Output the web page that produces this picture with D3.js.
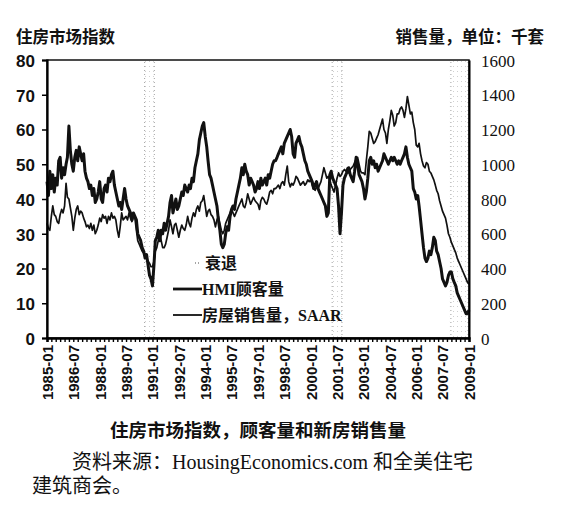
<!DOCTYPE html>
<html>
<head>
<meta charset="utf-8">
<script src="https://cdn.jsdelivr.net/npm/d3@7"></script>
<style>
  body { margin: 0; background: #fff; }
  svg text { fill: #111; }
</style>
</head>
<body>
<svg id="chart" width="565" height="527"></svg>
<script>
'use strict'

// monthly, 1985-01 .. 2009-01
const firstMonth = '1985-01';

// HMI 顾客量 (left axis)
const hmi = [
  45,41,48,43,47,42,46,44,51,52,46,49,
  47,50,52,61,54,50,48,52,54,51,55,53,
  51,53,48,46,45,43,44,41,43,39,40,42,
  45,40,39,43,44,42,46,45,47,48,44,42,
  40,38,39,37,40,43,40,38,37,36,34,36,
  35,34,30,29,28,26,25,23,24,21,18,17,
  15,21,28,29,31,28,31,30,33,31,33,35,
  39,41,36,38,40,37,38,40,42,41,44,43,
  42,44,43,46,45,49,51,53,57,59,61,62,
  58,55,51,47,46,44,42,40,38,34,31,27,
  26,27,30,32,31,35,37,38,37,40,42,44,
  46,49,47,50,48,47,44,46,45,44,42,43,
  45,43,46,44,45,46,44,47,46,48,50,51,
  51,52,53,54,55,53,56,57,58,59,60,58,
  53,52,56,57,58,56,55,53,51,50,48,47,
  46,45,43,44,45,43,42,41,40,39,38,35,
  36,47,48,46,45,44,43,38,30,36,44,46,
  47,48,49,47,46,45,48,52,50,47,46,45,
  43,40,42,46,51,52,50,51,49,50,48,49,
  50,51,53,52,51,50,51,52,51,52,51,50,
  51,50,51,52,53,55,52,50,49,48,43,42,
  40,41,38,34,30,26,23,22,23,25,24,26,
  29,28,25,24,22,20,17,16,15,16,18,19,
  19,17,16,15,13,12,11,10,9,8,7,7,
  8
];

// 房屋销售量, SAAR, 千套 (right axis)
const sales = [
  660,630,620,700,760,710,700,670,660,710,740,720,
  760,890,810,800,750,700,620,690,740,760,710,730,
  720,690,670,640,650,630,660,620,650,600,620,650,
  690,670,710,690,700,660,700,680,720,690,700,680,
  620,580,640,720,680,690,700,680,720,690,670,700,
  690,620,560,540,520,500,490,470,460,440,430,410,
  410,440,500,520,560,600,560,520,520,540,580,620,
  680,640,600,650,660,620,580,620,650,630,620,650,
  700,660,640,690,720,700,740,760,730,780,790,820,
  760,700,730,740,710,700,680,640,680,700,660,620,
  600,620,660,680,700,720,740,720,700,720,740,760,
  780,800,760,750,780,830,800,770,790,810,790,780,
  770,740,790,810,800,780,770,800,840,850,830,860,
  860,870,880,860,890,900,880,940,990,900,870,890,
  880,900,930,920,900,880,890,900,880,890,910,900,
  910,880,860,850,870,860,880,900,940,980,950,920,
  930,910,880,860,840,880,920,950,930,940,960,970,
  960,980,950,970,980,990,1010,1030,1040,1000,960,950,
  950,940,1020,1100,1190,1180,1150,1120,1130,1150,1170,1200,
  1230,1260,1200,1180,1120,1200,1250,1310,1280,1220,1240,1290,
  1290,1320,1330,1310,1270,1320,1390,1340,1290,1300,1240,1200,
  1110,1100,1120,1060,1020,990,980,1010,1000,960,950,930,
  910,880,850,830,790,760,730,710,690,650,600,580,
  550,530,510,490,460,440,420,400,380,360,340,320,
  310
];

const xLabels = ['1985-01','1986-07','1988-01','1989-07','1991-01','1992-07','1994-01','1995-07',
  '1997-01','1998-07','2000-01','2001-07','2003-01','2004-07','2006-01','2007-07','2009-01'];
const leftTicks = [0,10,20,30,40,50,60,70,80];
const rightTicks = [0,200,400,600,800,1000,1200,1400,1600];
const recessions = [['1990-07','1991-03'],['2001-03','2001-11'],['2007-12','2009-01']];

const parse = d3.timeParse('%Y-%m');
const fmt = d3.timeFormat('%Y-%m');
const t0 = parse(firstMonth);
const months = hmi.map((d, i) => d3.timeMonth.offset(t0, i));

const plot = {left: 47, right: 469, top: 60, bottom: 338};
const cjk = '"Noto Sans CJK SC", sans-serif';
const serifCjk = '"Liberation Serif", "Noto Sans CJK SC", serif';

const svg = d3.select('#chart');

const x = d3.scaleTime()
  .domain([months[0], months[months.length - 1]])
  .range([plot.left, plot.right]);
const yL = d3.scaleLinear().domain([0, 80]).range([plot.bottom, plot.top]);
const yR = d3.scaleLinear().domain([0, 1600]).range([plot.bottom, plot.top]);

// recession bands (stippled)
const defs = svg.append('defs');
const pat = defs.append('pattern')
  .attr('id', 'stipple')
  .attr('width', 4).attr('height', 5)
  .attr('patternUnits', 'userSpaceOnUse');
pat.append('rect').attr('x', 1).attr('y', 1).attr('width', 1).attr('height', 1).attr('fill', '#d0d0d0');

const rec = svg.append('g');
recessions.forEach(function(r) {
  let a = x(parse(r[0])), b = x(parse(r[1]));
  rec.append('rect')
    .attr('x', a).attr('y', plot.top)
    .attr('width', b - a).attr('height', plot.bottom - plot.top)
    .attr('fill', 'url(#stipple)');
  [a + 1, b - 1].forEach(function(px) {
    rec.append('line')
      .attr('x1', px).attr('x2', px)
      .attr('y1', plot.top + 2).attr('y2', plot.bottom)
      .attr('stroke', '#a0a0a0')
      .attr('stroke-width', 1)
      .attr('stroke-dasharray', '1,3');
  });
});

// lines
const lineL = d3.line().x((d, i) => x(months[i])).y(d => yL(d));
const lineR = d3.line().x((d, i) => x(months[i])).y(d => yR(d));

svg.append('path')
  .datum(sales)
  .attr('d', lineR)
  .attr('fill', 'none')
  .attr('stroke', '#111')
  .attr('stroke-width', 1.7)
  .attr('stroke-linejoin', 'round');

svg.append('path')
  .datum(hmi)
  .attr('d', lineL)
  .attr('fill', 'none')
  .attr('stroke', '#111')
  .attr('stroke-width', 3)
  .attr('stroke-linejoin', 'round');

// frame
svg.append('rect')
  .attr('x', plot.left).attr('y', plot.top)
  .attr('width', plot.right - plot.left).attr('height', plot.bottom - plot.top)
  .attr('fill', 'none')
  .attr('stroke', '#111')
  .attr('stroke-width', 1.5);

// left axis
const axL = svg.append('g')
  .attr('transform', 'translate(' + plot.left + ',0)')
  .call(d3.axisLeft(yL).tickValues(leftTicks).tickSize(5).tickPadding(7));
axL.select('.domain').attr('stroke-width', 2.2);
axL.selectAll('.tick line').attr('stroke-width', 1.5);
axL.selectAll('text')
  .style('font-family', '"Liberation Sans", sans-serif')
  .style('font-weight', 'bold')
  .style('font-size', '17px')
  .attr('dy', '0.38em');

// right axis
const axR = svg.append('g')
  .attr('transform', 'translate(' + plot.right + ',0)')
  .call(d3.axisRight(yR).tickValues(rightTicks).tickSize(0).tickPadding(12).tickFormat(d3.format('d')));
axR.select('.domain').attr('stroke-width', 2);
axR.selectAll('text')
  .style('font-family', '"Liberation Serif", serif')
  .style('font-size', '17px')
  .attr('dy', '0.36em');

// bottom axis: quarterly ticks
const axB = svg.append('g')
  .attr('transform', 'translate(0,' + plot.bottom + ')')
  .call(d3.axisBottom(x).ticks(d3.timeMonth.every(3)).tickSize(4).tickFormat(''));
axB.select('.domain').attr('stroke-width', 2.5);
axB.selectAll('.tick line').attr('stroke-width', 1.4);

// bottom labels
const axLab = svg.append('g')
  .attr('transform', 'translate(0,' + plot.bottom + ')')
  .call(d3.axisBottom(x).tickValues(xLabels.map(parse)).tickSize(0).tickFormat(fmt));
axLab.select('.domain').remove();
axLab.selectAll('text')
  .style('font-family', '"Liberation Sans", sans-serif')
  .style('font-weight', 'bold')
  .style('font-size', '15px')
  .attr('text-anchor', 'end')
  .attr('transform', 'rotate(-90)')
  .attr('x', -7)
  .attr('y', 0)
  .attr('dy', '0.36em');

// axis titles
svg.append('text')
  .attr('x', 16).attr('y', 43)
  .style('font-family', cjk).style('font-weight', 'bold').style('font-size', '16.5px')
  .text('住房市场指数');
svg.append('text')
  .attr('x', 544).attr('y', 43)
  .attr('text-anchor', 'end')
  .style('font-family', cjk).style('font-weight', 'bold').style('font-size', '16.5px')
  .text('销售量，单位：千套');

// legend
const lg = svg.append('g');
lg.append('line')
  .attr('x1', 195).attr('x2', 199).attr('y1', 263).attr('y2', 263)
  .attr('stroke', '#888').attr('stroke-width', 1.5).attr('stroke-dasharray', '1,2');
lg.append('text').attr('x', 205).attr('y', 269)
  .style('font-family', cjk).style('font-weight', 'bold').style('font-size', '16px')
  .text('衰退');
lg.append('line')
  .attr('x1', 173).attr('x2', 202).attr('y1', 289).attr('y2', 289)
  .attr('stroke', '#111').attr('stroke-width', 2.8);
lg.append('text').attr('x', 202).attr('y', 295)
  .style('font-family', serifCjk).style('font-weight', 'bold').style('font-size', '16px')
  .text('HMI顾客量');
lg.append('line')
  .attr('x1', 173).attr('x2', 202).attr('y1', 315).attr('y2', 315)
  .attr('stroke', '#111').attr('stroke-width', 1.8);
lg.append('text').attr('x', 202).attr('y', 321)
  .style('font-family', serifCjk).style('font-weight', 'bold').style('font-size', '16px')
  .text('房屋销售量，SAAR');

// caption & source
svg.append('text')
  .attr('x', 258).attr('y', 437)
  .attr('text-anchor', 'middle')
  .style('font-family', cjk).style('font-weight', 'bold').style('font-size', '18.5px')
  .text('住房市场指数，顾客量和新房销售量');
svg.append('text')
  .attr('x', 72).attr('y', 469)
  .style('font-family', serifCjk).style('font-size', '20px')
  .text('资料来源：HousingEconomics.com 和全美住宅');
svg.append('text')
  .attr('x', 32).attr('y', 493)
  .style('font-family', serifCjk).style('font-size', '20px')
  .text('建筑商会。');
</script>
</body>
</html>
